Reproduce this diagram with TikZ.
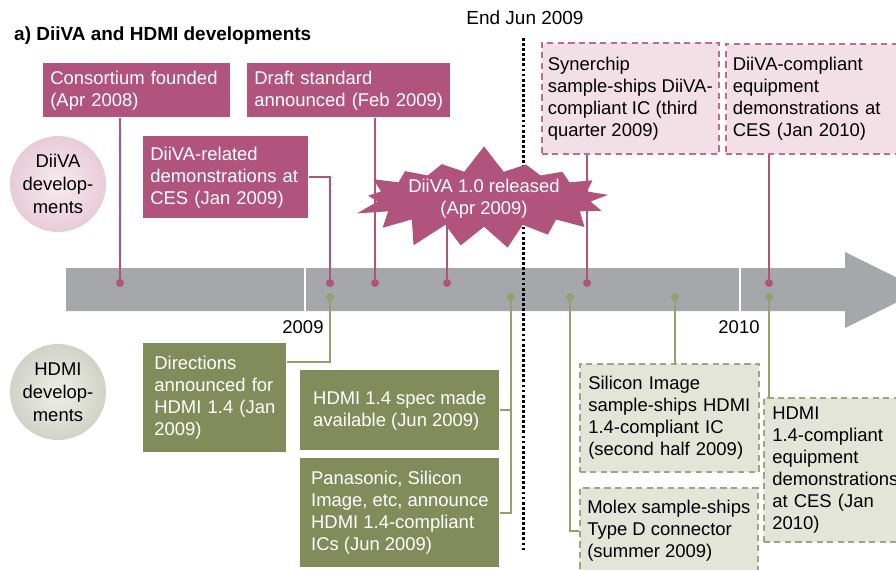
\documentclass[tikz,border=0pt]{standalone}
\usepackage{fontspec}
\setmainfont{Liberation Sans}
\usetikzlibrary{shapes.symbols,backgrounds,calc}

\definecolor{dvpink}{RGB}{176,84,126}
\definecolor{dvlight}{RGB}{242,224,230}
\definecolor{dvedge}{RGB}{190,108,144}
\definecolor{hdgreen}{RGB}{130,140,90}
\definecolor{hdline}{RGB}{150,160,110}
\definecolor{hdlight}{RGB}{227,229,216}
\definecolor{hdedge}{RGB}{158,166,128}
\definecolor{bargray}{RGB}{166,167,171}

\begin{document}
\begin{tikzpicture}[x=0.2mm, y=-0.2mm,
    txt/.style={font=\fontsize{10.5}{12.5}\selectfont},
    dvbox/.style={txt, fill=dvpink, text=white, align=left, anchor=north west, inner xsep=0.14cm, inner ysep=0pt},
    dvdash/.style={txt, fill=dvlight, draw=dvedge, line width=0.9pt, dash pattern=on 3.5pt off 2.5pt, align=left, anchor=north west, inner xsep=0.14cm, inner ysep=0pt},
    hdbox/.style={txt, fill=hdgreen, text=white, align=left, anchor=north west, inner xsep=0.23cm, inner ysep=0pt},
    hddash/.style={txt, fill=hdlight, draw=hdedge, line width=0.9pt, dash pattern=on 3.5pt off 2.5pt, align=left, anchor=north west, inner xsep=0.17cm, inner ysep=0pt},
    burst/.style={txt, starburst, starburst points=17, starburst point height=0.55cm, random starburst=7, fill=dvpink, text=white, align=center, minimum width=3.5cm, minimum height=1.55cm, inner sep=0pt},
    bubble/.style={circle, minimum size=1.92cm, inner sep=0pt, align=center, font=\fontsize{10.5}{13}\selectfont},
    dvln/.style={draw=dvpink, line width=1.1pt},
    hdln/.style={draw=hdline, line width=1.1pt},
    tick/.style={white, line width=1.3pt},
    endline/.style={line width=1.7pt, dash pattern=on 1.6pt off 1.3pt}
]
\useasboundingbox (0,0) rectangle (896,569);

% headings
\node[anchor=west, font=\bfseries\fontsize{10.8}{13}\selectfont] (title) at (8,36) {a) DiiVA and HDMI developments};
\node[font=\fontsize{10.8}{13}\selectfont] (endjun) at (525,18) {End Jun 2009};
\coordinate (jtop) at (523,38);
\coordinate (jbot) at (523,550);

\node[bubble, shading=radial, inner color=dvlight!60!white, outer color=dvlight!85!dvpink] (dvc) at (58,184) {DiiVA\\develop-\\ments};
\node[bubble, shading=radial, inner color=hdlight!60!white, outer color=hdlight!92!black] (hdc) at (58,392) {HDMI\\develop-\\ments};

% DiiVA side
\node[dvbox, text width=3.46cm, minimum height=1.08cm] (cons) at (43,63) {Consortium founded\\(Apr 2008)};
\node[dvbox, text width=3.78cm, minimum height=1.08cm] (draft) at (247,63) {Draft standard\\announced (Feb 2009)};
\node[dvbox, text width=3.02cm, minimum height=1.64cm] (ces09) at (143,136) {DiiVA-related\\demonstrations at\\CES (Jan 2009)};
\node[burst] (rel) at (484,199) {DiiVA 1.0 released\\(Apr 2009)};
\node[dvdash, minimum width=3.54cm, minimum height=2.22cm, inner xsep=0.1cm] (syn) at (541,42) {Synerchip\\sample-ships DiiVA-\\compliant IC (third\\quarter 2009)};
\node[dvdash, text width=3.4cm, minimum height=2.2cm] (ces10) at (725,43) {DiiVA-compliant\\equipment\\demonstrations at\\CES (Jan 2010)};

% HDMI side
\node[hdbox, text width=2.42cm, minimum height=2.18cm, inner xsep=0.22cm] (dirs) at (143,343) {Directions\\announced for\\HDMI 1.4 (Jan\\2009)};
\node[hdbox, minimum width=3.98cm, minimum height=1.6cm, inner xsep=0.1cm] (spec) at (300,370) {HDMI 1.4 spec made\\available (Jun 2009)};
\node[hdbox, minimum width=3.98cm, minimum height=2.18cm, inner xsep=0.1cm] (pana) at (300,458) {Panasonic, Silicon\\Image, etc, announce\\HDMI 1.4-compliant\\ICs (Jun 2009)};
\node[hddash, text width=3.24cm, minimum height=2.16cm] (siimg) at (579,363) {Silicon Image\\sample-ships HDMI\\1.4-compliant IC\\(second half 2009)};
\node[hddash, minimum width=3.56cm, minimum height=1.72cm, inner xsep=0.1cm] (molex) at (579,487) {Molex sample-ships\\Type D connector\\(summer 2009)};
\node[hddash, text width=2.64cm, minimum height=2.88cm] (hdmieq) at (763,397) {HDMI\\1.4-compliant\\equipment\\demonstrations\\at CES (Jan\\2010)};

% points on the time line
\coordinate (dCons) at (120,283);
\coordinate (dCes) at (330,283);
\coordinate (dDraft) at (375,283);
\coordinate (dRel) at (447,283);
\coordinate (dSyn) at (587,283);
\coordinate (dCes10) at (769,283);
\coordinate (dDirs) at (330,297);
\coordinate (dSpec) at (511,297);
\coordinate (dMolex) at (570,297);
\coordinate (dSi) at (675,297);
\coordinate (dEq) at (769,297);

\node[txt] (y09) at (303,327) {2009};
\node[txt] (y10) at (739,327) {2010};

\begin{scope}[on background layer]
  \fill[bargray] (66,268) -- (845,268) -- (845,252) -- (922,290) -- (845,328) -- (845,311) -- (66,311) -- cycle;
  \draw[tick] (305,268) -- (305,311);
  \draw[tick] (740,268) -- (740,311);
  \draw[endline] (jtop) -- (jbot);
  \draw[dvln] (cons.south -| dCons) -- (dCons);
  \draw[dvln] (ces09.east) -| (dCes);
  \draw[dvln] (draft.south -| dDraft) -- (dDraft);
  \draw[dvln] (rel.center -| dRel) -- (dRel);
  \draw[dvln] (syn.south -| dSyn) -- (dSyn);
  \draw[dvln] (ces10.south -| dCes10) -- (dCes10);
  \draw[hdln] ([yshift=-0.38cm]dirs.north east) -| (dDirs);
  \draw[hdln] (spec.east) -| (dSpec);
  \draw[hdln] (pana.east) -| (dSpec);
  \draw[hdln] (siimg.north -| dSi) -- (dSi);
  \draw[hdln] (dMolex) |- (molex.west);
  \draw[hdln] (hdmieq.north -| dEq) -- (dEq);
\end{scope}

\foreach \d in {dCons,dCes,dDraft,dRel,dSyn,dCes10}
  \fill[dvpink] (\d) circle (0.08cm);
\foreach \d in {dDirs,dSpec,dMolex,dSi,dEq}
  \fill[hdline] (\d) circle (0.08cm);
\end{tikzpicture}
\end{document}
